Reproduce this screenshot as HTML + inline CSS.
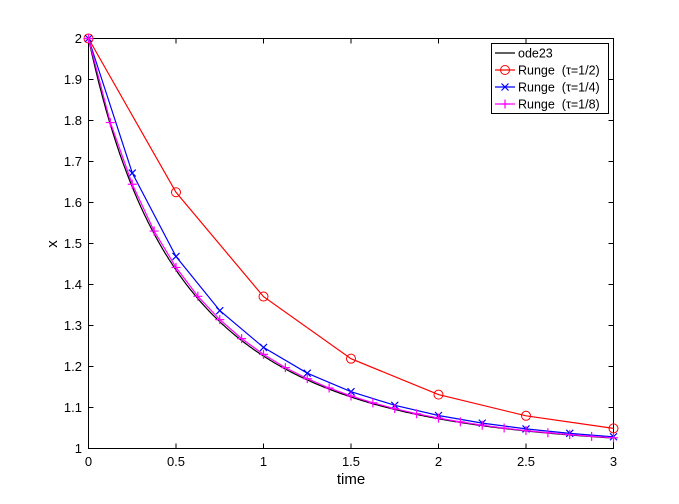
<!DOCTYPE html>
<html><head><meta charset="utf-8"><style>body{margin:0;background:#fff}svg{display:block}text{font-family:"Liberation Sans",sans-serif;white-space:pre}</style></head>
<body>
<svg id="s" width="679" height="504" xmlns="http://www.w3.org/2000/svg">
<rect x="0" y="0" width="679" height="504" fill="#fff"/>
<rect x="88.5" y="38.5" width="525" height="410" fill="#fff" stroke="#000" stroke-width="1"/>
<g id="g"></g>
</svg>
<script>
const g=document.getElementById('g');
function X(t){return 88.5+t*525/3}function Y(v){return 448.5-(v-1)*410}
let h='';
for(let i=0;i<=6;i++){const t=i*0.5,x=X(t);h+=`<line x1="${x}" y1="448.5" x2="${x}" y2="443.5" stroke="#000"/><line x1="${x}" y1="38.5" x2="${x}" y2="43.5" stroke="#000"/><text x="${x}" y="466" font-size="13" text-anchor="middle">${t}</text>`;}
for(let i=0;i<=10;i++){const v=1+i/10,y=Y(v);h+=`<line x1="88.5" y1="${y}" x2="93.5" y2="${y}" stroke="#000"/><line x1="613.5" y1="${y}" x2="608.5" y2="${y}" stroke="#000"/><text x="82" y="${y+4.5}" font-size="13" text-anchor="end">${i==0?1:i==10?2:(1+i/10).toFixed(1)}</text>`;}
h+=`<text x="351" y="484" font-size="15" text-anchor="middle">time</text><text x="57" y="244" font-size="15" text-anchor="middle" transform="rotate(-90 57 244)">x</text>`;
const f=x=>x-x*x;
function rk(tau){let x=2,p=[[0,2]];const n=Math.round(3/tau);for(let i=1;i<=n;i++){const k=f(x);x=x+tau*f(x+tau/2*k);p.push([i*tau,x]);}return p;}
let ex=[];for(let i=0;i<=300;i++){const t=i*0.01;ex.push([t,1/(1-0.5*Math.exp(-t))]);}
const pl=(p,c)=>`<polyline fill="none" stroke="${c}" stroke-width="1.2" points="${p.map(q=>X(q[0]).toFixed(1)+','+Y(q[1]).toFixed(1)).join(' ')}"/>`;
h+=pl(ex,'#000');
const r=rk(0.5),b=rk(0.25),m=rk(0.125);
h+=pl(r,'#f00');r.forEach(q=>h+=`<circle cx="${X(q[0])}" cy="${Y(q[1])}" r="4.5" fill="none" stroke="#f00"/>`);
const cross=(x,y,c,s)=>`<path d="M${x-s} ${y-s}L${x+s} ${y+s}M${x-s} ${y+s}L${x+s} ${y-s}" stroke="${c}" stroke-width="1.2"/>`;
const plus=(x,y,c,s)=>`<path d="M${x-s} ${y}L${x+s} ${y}M${x} ${y-s}L${x} ${y+s}" stroke="${c}" stroke-width="1.2"/>`;
h+=pl(b,'#00f');b.forEach(q=>h+=cross(X(q[0]),Y(q[1]),'#00f',3.5));
h+=pl(m,'#f0f');m.forEach(q=>h+=plus(X(q[0]),Y(q[1]),'#f0f',4.5));
h+=`<rect x="491.5" y="43.5" width="117" height="70" fill="#fff" stroke="#000"/>`;
const L=[['ode23','#000',''],['Runge&#160;&#160;(τ=1/2)','#f00','o'],['Runge&#160;&#160;(τ=1/4)','#00f','x'],['Runge&#160;&#160;(τ=1/8)','#f0f','+']];
L.forEach((e,i)=>{const y=53+i*17;h+=`<line x1="495" y1="${y}" x2="515" y2="${y}" stroke="${e[1]}" stroke-width="1.2"/>`;
if(e[2]=='o')h+=`<circle cx="505" cy="${y}" r="4.5" fill="none" stroke="${e[1]}"/>`;
if(e[2]=='x')h+=cross(505,y,e[1],3.5);if(e[2]=='+')h+=plus(505,y,e[1],4.5);
h+=`<text x="518" y="${y+4.5}" font-size="12.5">${e[0]}</text>`;});
g.innerHTML=h;
</script>
</body></html>
